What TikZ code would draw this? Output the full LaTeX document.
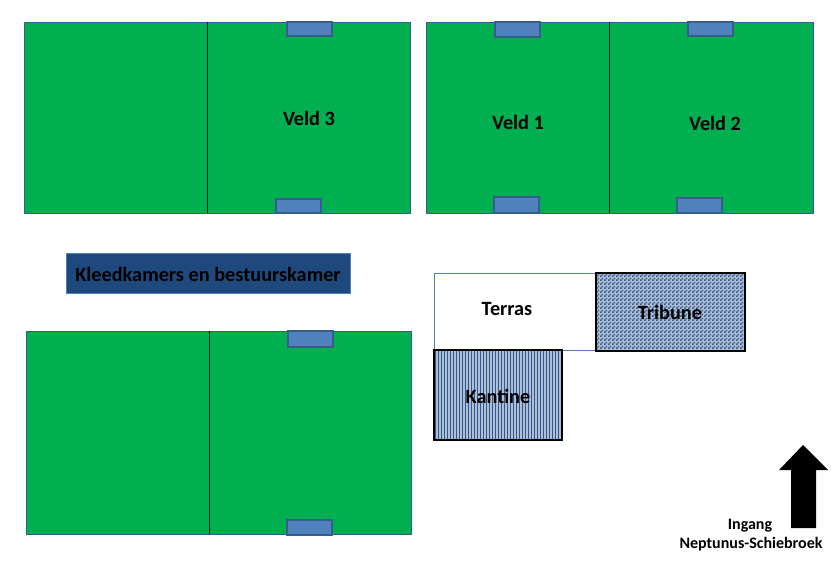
\documentclass[tikz,border=0pt]{standalone}
\usepackage{fontspec}
\setmainfont{Carlito}
\usetikzlibrary{patterns,patterns.meta}
\definecolor{veld}{RGB}{0,176,80}
\definecolor{goalfill}{RGB}{79,129,189}
\definecolor{goalline}{RGB}{56,93,138}
\definecolor{kleed}{RGB}{31,73,125}
\definecolor{hatch}{RGB}{45,90,145}
\definecolor{hatchbase}{RGB}{175,190,210}
\pgfdeclarepatternformonly{checkertile}{\pgfpointorigin}{\pgfqpoint{4pt}{4pt}}{\pgfqpoint{4pt}{4pt}}{
  \pgfpathrectangle{\pgfpointorigin}{\pgfqpoint{2pt}{2pt}}
  \pgfpathrectangle{\pgfqpoint{2pt}{2pt}}{\pgfqpoint{2pt}{2pt}}
  \pgfusepath{fill}}
\tikzset{
  pitch/.style={draw=goalline,line width=0.8pt,fill=veld},
  midline/.style={draw=black,line width=0.8pt},
  goal/.style={draw=goalline,line width=1.4pt,fill=goalfill},
  lbl/.style={font=\bfseries\fontsize{20.3}{23}\selectfont,text=black,inner sep=0pt},
  smalllbl/.style={font=\bfseries\fontsize{16}{19}\selectfont,text=black,inner sep=0pt},
  block/.style={draw=black,line width=1.8pt},
}
\begin{document}
\begin{tikzpicture}[x=1pt,y=-1pt]
\useasboundingbox (0,0) rectangle (834,560);
% Veld 3
\draw[pitch] (24,22) rectangle (410,213);
\draw[midline] (207,22) -- (207,213);
\draw[goal] (287,22) rectangle (332,36);
\draw[goal] (276,199) rectangle (321,213);
% Veld 1 / 2
\draw[pitch] (426,22) rectangle (813,213);
\draw[midline] (609,22) -- (609,213);
\draw[goal] (495,22) rectangle (540,37);
\draw[goal] (494,197) rectangle (539,213);
\draw[goal] (688,22) rectangle (733,36);
\draw[goal] (677,198) rectangle (722,213);
% bottom pitch
\draw[pitch] (26,331) rectangle (411,534);
\draw[midline] (209,331) -- (209,534);
\draw[goal] (288,331) rectangle (333,347);
\draw[goal] (287,520) rectangle (332,535);
% labels
\node[lbl] (v3) at (309,118) {Veld 3};
\node[lbl] (v1) at (518,122) {Veld 1};
\node[lbl] (v2) at (715,123) {Veld 2};
% Kleedkamers
\draw[draw=goalfill,line width=0.8pt,fill=kleed] (66,253) rectangle (350,293);
\node[lbl] (kl) at (208,274) {Kleedkamers en bestuurskamer};
% Terras
\draw[draw=goalfill,line width=0.8pt,fill=white] (434,273) rectangle (596,350);
\node[lbl] (te) at (507,309) {Terras};
% Tribune
\fill[hatchbase] (596,273) rectangle (745,351);
\fill[pattern=checkertile,pattern color=hatch] (596,273) rectangle (745,351);
\draw[block] (596,273) rectangle (745,351);
\node[lbl] (tr) at (670,312) {Tribune};
% Kantine
\fill[hatchbase] (434,350) rectangle (562,440);
\fill[pattern={Lines[angle=90,distance=3pt,line width=0.8pt]},pattern color=hatch] (434,350) rectangle (562,440);
\draw[block] (434,350) rectangle (562,440);
\node[lbl] (ka) at (498,396) {Kantine};
% arrow
\fill[black] (803,445) -- (828,470) -- (816,470) -- (816,528) -- (791,528) -- (791,470) -- (779,470) -- cycle;
\node[smalllbl] (in) at (750,526) {Ingang};
\node[smalllbl] (ne) at (751,544) {Neptunus-Schiebroek};
\end{tikzpicture}
\end{document}
